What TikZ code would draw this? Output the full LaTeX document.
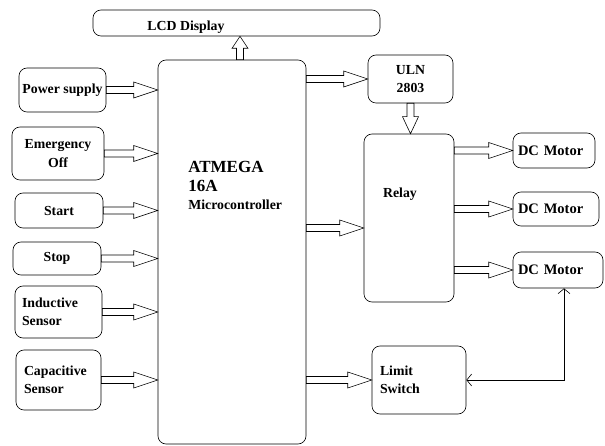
\documentclass[tikz,border=0pt]{standalone}
\usepackage{fontspec}
\setmainfont{Liberation Serif}
\usetikzlibrary{arrows.meta, calc, positioning}

\tikzset{
  blk/.style={draw, rounded corners=8pt, font=\fontsize{13.8}{18.5}\selectfont\bfseries, align=center, inner sep=2pt},
  txt/.style={font=\fontsize{13.8}{18.5}\selectfont\bfseries, inner sep=0pt},
  motor/.style={blk, font=\fontsize{14.5}{18.5}\selectfont\bfseries, align=left},
  harrow/.style={draw, fill=white, line width=0.6pt, line join=miter}
}

% hollow block arrow: [head length]{from}{to}
\newcommand{\hollowarrow}[3][24]{%
  \draw[harrow] ($(#2)!3.5pt!90:(#3)$)
    -- ($(#3)!#1pt!(#2)!3.5pt!-90:(#2)$)
    -- ($(#3)!#1pt!(#2)!8pt!-90:(#2)$)
    -- (#3)
    -- ($(#3)!#1pt!(#2)!8pt!90:(#2)$)
    -- ($(#3)!#1pt!(#2)!3.5pt!90:(#2)$)
    -- ($(#2)!3.5pt!-90:(#3)$) -- cycle;}

\begin{document}
\begin{tikzpicture}[x=1pt, y=-1pt, line width=0.6pt]
    \useasboundingbox (0,0) rectangle (605,446);

    % Draw blocks
    \node[blk, minimum width=287pt, minimum height=26pt] (lcd) at (236.5,23) {};
    \node[txt] at (186,27) {LCD Display};

    \node[blk, minimum width=148pt, minimum height=384pt] (mcu) at (232,252) {};
    \node[txt, align=left, anchor=north west] (mcutext) at (188,161)
        {\fontsize{17}{21}\selectfont ATMEGA\\\fontsize{17}{21}\selectfont 16A\\Microcontroller};

    % Input blocks
    \node[blk, minimum width=87pt, minimum height=44pt] (pwr) at (62.5,90) {Power supply};
    \node[blk, minimum width=92pt, minimum height=53pt] (emg) at (58,153.5) {Emergency\\Off};
    \node[blk, minimum width=88pt, minimum height=35pt] (start) at (59,210.5) {Start};
    \node[blk, minimum width=88pt, minimum height=33pt] (stop) at (57,258.5) {Stop};
    \node[blk, minimum width=87pt, minimum height=52pt, text width=73pt, align=left] (ind) at (58.5,312) {Inductive\\Sensor};
    \node[blk, minimum width=85pt, minimum height=60pt, text width=69pt, align=left] (cap) at (58.5,380) {Capacitive\\Sensor};

    % Output blocks
    \node[blk, minimum width=85pt, minimum height=48pt] (uln) at (410.5,79) {ULN\\2803};
    \node[blk, minimum width=90pt, minimum height=168pt] (relay) at (409,218) {};
    \node[txt] at (400,194) {Relay};
    \node[motor, minimum width=82pt, minimum height=35pt, text width=72pt] (m1) at (554,150.5) {DC Motor};
    \node[motor, minimum width=86pt, minimum height=34pt, text width=76pt] (m2) at (556,209) {DC Motor};
    \node[motor, minimum width=90pt, minimum height=36pt, text width=80pt] (m3) at (558,270) {DC Motor};
    \node[blk, minimum width=94pt, minimum height=68pt, text width=78pt, align=left] (lim) at (419,380) {Limit\\Switch};

    % Draw hollow arrows into the controller
    \foreach \src in {pwr, emg, start, stop, ind, cap}
        \hollowarrow{\src.east}{\src.east -| mcu.west};

    % Draw hollow arrows out of the controller
    \coordinate (lcdout) at ($(mcu.north)+(8,0)$);
    \hollowarrow[12]{lcdout}{lcdout |- lcd.south};
    \hollowarrow{uln.west -| mcu.east}{uln.west};
    \coordinate (relayin) at ($(relay.west)+(0,10)$);
    \hollowarrow{relayin -| mcu.east}{relayin};
    \hollowarrow{lim.west -| mcu.east}{lim.west};
    \hollowarrow[17]{uln.south}{uln.south |- relay.north};

    % Relay to motors
    \foreach \mot in {m1, m2, m3}
        \hollowarrow{\mot.west -| relay.east}{\mot.west};

    % Feedback line motor - limit switch
    \coordinate (m3in) at ($(m3.south)+(6,0)$);
    \draw[{Straight Barb[length=5pt, width=12pt]}-{Straight Barb[length=5pt, width=12pt]}]
        (m3in) |- (lim.east);

\end{tikzpicture}
\end{document}
